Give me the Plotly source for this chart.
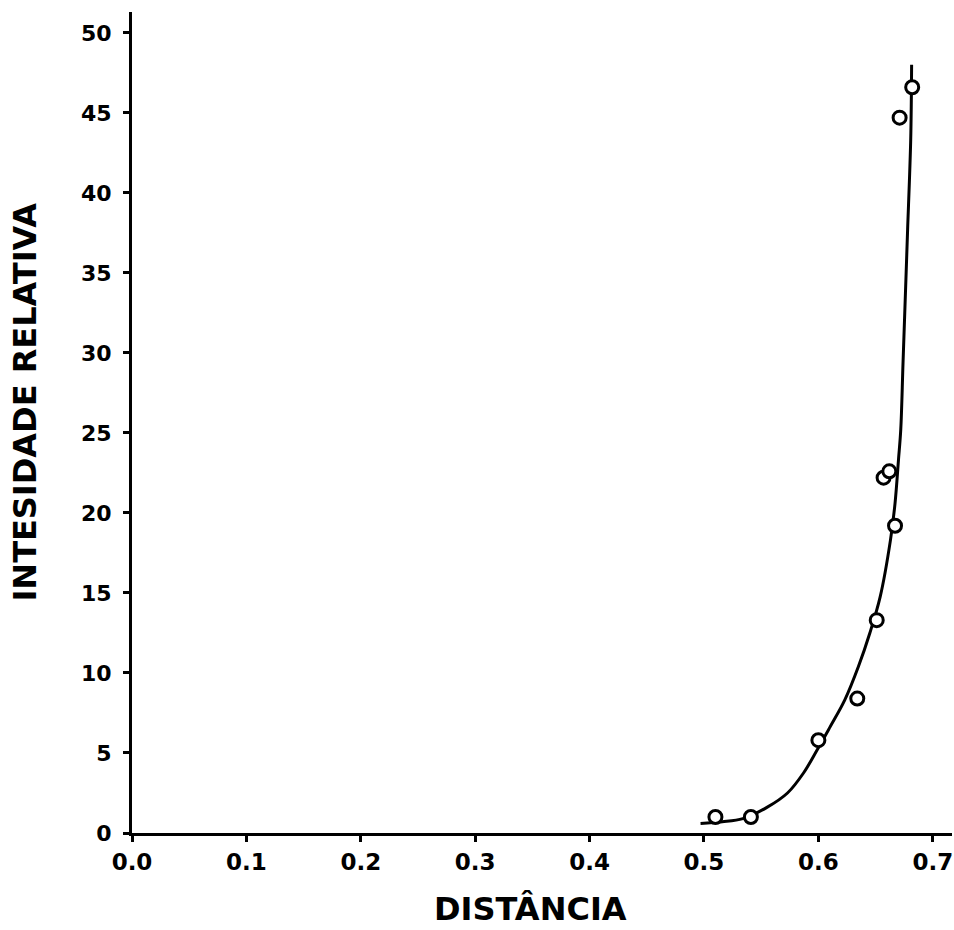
import plotly.graph_objects as go

# Measured points (open circles)
dist_pts = [0.510, 0.541, 0.600, 0.634, 0.651, 0.657, 0.662, 0.667, 0.671, 0.682]
int_pts = [1.0, 1.0, 5.8, 8.4, 13.3, 22.2, 22.6, 19.2, 44.7, 46.6]

# Fitted curve
dist_curve = [0.497, 0.516, 0.534, 0.555, 0.573, 0.587, 0.599, 0.610, 0.623, 0.635,
              0.645, 0.654, 0.663, 0.667, 0.670, 0.672, 0.674, 0.677, 0.678, 0.6807, 0.6815]
int_curve = [0.6, 0.7, 0.9, 1.6, 2.5, 3.75, 5.2, 6.6, 8.3, 10.4,
             12.5, 14.75, 18.3, 20.6, 23.3, 25.2, 29.4, 35.6, 37.7, 43.3, 48.0]

x_ticks = [0.0, 0.1, 0.2, 0.3, 0.4, 0.5, 0.6, 0.7]
x_ticklabels = ["0.0", "0.1", "0.2", "0.3", "0.4", "0.5", "0.6", "0.7"]
y_ticks = [0, 5, 10, 15, 20, 25, 30, 35, 40, 45, 50]

x_title = "DISTÂNCIA"
y_title = "INTESIDADE RELATIVA"

fig = go.Figure()
fig.add_trace(go.Scatter(
    x=dist_curve, y=int_curve, mode="lines",
    line=dict(color="black", width=3, shape="spline", smoothing=1.0),
    showlegend=False, hoverinfo="skip"))
fig.add_trace(go.Scatter(
    x=dist_pts, y=int_pts, mode="markers",
    marker=dict(symbol="circle", size=13, color="white",
                line=dict(color="black", width=3)),
    showlegend=False))

tick_fam = "DejaVu Sans, sans-serif"
title_fam = "DejaVu Sans, sans-serif"
fig.update_layout(
    width=954, height=930,
    margin=dict(l=132, r=2, t=12, b=97),
    paper_bgcolor="white", plot_bgcolor="white",
    font=dict(family=tick_fam, color="black"),
    xaxis=dict(
        range=[0, 0.7168], tickvals=x_ticks, ticktext=x_ticklabels,
        showgrid=False, zeroline=False, showline=True, linecolor="black", linewidth=3,
        ticks="outside", ticklen=6, tickwidth=3, tickcolor="black",
        tickfont=dict(family=tick_fam, size=23, color="black", weight="bold"),
        ticklabeloverflow="allow",
        automargin=False,
    ),
    yaxis=dict(
        range=[0, 51.3], tickvals=y_ticks,
        showgrid=False, zeroline=False, showline=True, linecolor="black", linewidth=3,
        ticks="outside", ticklen=6, tickwidth=3, tickcolor="black",
        tickfont=dict(family=tick_fam, size=22, color="black", weight="bold"),
        ticklabelstandoff=7,
        automargin=False,
    ),
    annotations=[
        dict(text=x_title, xref="paper", yref="paper", x=0.4854, y=-0.093,
             xanchor="center", yanchor="middle", showarrow=False,
             font=dict(family=title_fam, size=32, color="black", weight="bold")),
        dict(text=y_title, xref="paper", yref="paper", x=-0.131, y=0.525,
             xanchor="center", yanchor="middle", showarrow=False, textangle=-90,
             font=dict(family=title_fam, size=32, color="black", weight="bold")),
    ],
)

# Remove the browser's default page margin so the figure fills the window exactly
fig.write_html(
    "out.html",
    config={"displayModeBar": False},
    post_script="document.body.style.margin='0';document.body.style.overflow='hidden';",
)
